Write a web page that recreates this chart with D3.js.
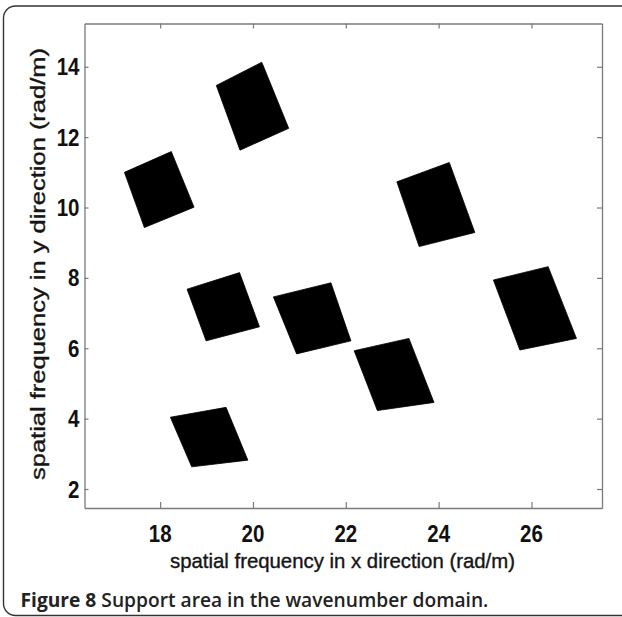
<!DOCTYPE html>
<html>
<head>
<meta charset="utf-8">
<script src="https://cdn.jsdelivr.net/npm/d3@7"></script>
<style>
  html, body { margin: 0; padding: 0; background: #fff; }
  svg { display: block; }
</style>
</head>
<body>
<svg id="fig" width="622" height="617"></svg>
<script>
// Support regions in the wavenumber domain: each patch is a quadrilateral
// given by its four corners (kx, ky) in rad/m, listed clockwise from top-left.
const patchNames = ["A", "B", "C", "D", "E", "F", "G", "H"];
const cornersKx = [
  [19.21, 20.19, 20.77, 19.72],
  [17.23, 18.24, 18.73, 17.66],
  [23.10, 24.23, 24.78, 23.58],
  [25.18, 26.36, 26.97, 25.75],
  [18.58, 19.71, 20.14, 18.99],
  [20.44, 21.68, 22.11, 20.94],
  [18.22, 19.42, 19.89, 18.68],
  [22.18, 23.36, 23.90, 22.68]
];
const cornersKy = [
  [13.47, 14.13, 12.25, 11.63],
  [11.00, 11.59, 10.01, 9.43],
  [10.73, 11.28, 9.29, 8.89],
  [7.94, 8.32, 6.28, 5.95],
  [7.68, 8.15, 6.61, 6.21],
  [7.46, 7.86, 6.21, 5.84],
  [4.04, 4.32, 2.82, 2.63],
  [5.93, 6.28, 4.46, 4.23]
];
const xTicks = [18, 20, 22, 24, 26];
const yTicks = [2, 4, 6, 8, 10, 12, 14];
const xDomain = [16.37, 27.52];
const yDomain = [1.46, 15.23];
const xLabel = "spatial frequency in x direction (rad/m)";
const yLabel = "spatial frequency in y direction (rad/m)";
const captionBold = "Figure 8";
const captionText = " Support area in the wavenumber domain.";

const svg = d3.select("#fig");

// outer rounded frame of the figure panel (its right side runs off the page)
svg.append("rect")
  .attr("x", 3.5).attr("y", 6)
  .attr("width", 640).attr("height", 609.5)
  .attr("rx", 12).attr("ry", 12)
  .attr("fill", "none")
  .attr("stroke", "#333")
  .attr("stroke-width", 1.4);

const plot = { left: 84.5, right: 602, top: 23.5, bottom: 508 };

const x = d3.scaleLinear().domain(xDomain).range([plot.left, plot.right]);
const y = d3.scaleLinear().domain(yDomain).range([plot.bottom, plot.top]);

// patches
const line = d3.line()
  .x(d => x(d[0]))
  .y(d => y(d[1]))
  .curve(d3.curveLinearClosed);

svg.append("g")
  .selectAll("path")
  .data(patchNames.map((n, i) => cornersKx[i].map((kx, j) => [kx, cornersKy[i][j]])))
  .join("path")
  .attr("d", line)
  .attr("fill", "#000")
  .attr("stroke", "#000")
  .attr("stroke-width", 0.8)
  .attr("stroke-linejoin", "round");

// axes box with inward ticks on all four sides
const axisColor = "#7a7a7a";
const tickFont = "'Liberation Sans', Arial, sans-serif";

function styleAxis(g) {
  g.select(".domain").attr("stroke", axisColor).attr("stroke-width", 1.3);
  g.selectAll(".tick line").attr("stroke", axisColor).attr("stroke-width", 1.2);
}

const xBottom = svg.append("g")
  .attr("transform", `translate(0,${plot.bottom})`)
  .call(d3.axisBottom(x).tickValues(xTicks).tickSizeInner(-6).tickSizeOuter(0).tickFormat(""));
styleAxis(xBottom);

const xTop = svg.append("g")
  .attr("transform", `translate(0,${plot.top})`)
  .call(d3.axisTop(x).tickValues(xTicks).tickSizeInner(-5).tickSizeOuter(0).tickFormat(""));
styleAxis(xTop);

const yLeft = svg.append("g")
  .attr("transform", `translate(${plot.left},0)`)
  .call(d3.axisLeft(y).tickValues(yTicks).tickSizeInner(-4).tickSizeOuter(0).tickFormat(""));
styleAxis(yLeft);

const yRight = svg.append("g")
  .attr("transform", `translate(${plot.right},0)`)
  .call(d3.axisRight(y).tickValues(yTicks).tickSizeInner(-5).tickSizeOuter(0).tickFormat(""));
styleAxis(yRight);

// tick labels (tall, narrow digits)
svg.append("g")
  .selectAll("text")
  .data(xTicks)
  .join("text")
  .attr("transform", d => `translate(${x(d)},541.5) scale(1,1.15)`)
  .attr("text-anchor", "middle")
  .attr("font-family", tickFont)
  .attr("font-weight", "bold")
  .attr("font-size", 20.5)
  .attr("fill", "#111")
  .text(d => d);

svg.append("g")
  .selectAll("text")
  .data(yTicks)
  .join("text")
  .attr("transform", d => `translate(79.5,${y(d) + 8.5}) scale(1,1.15)`)
  .attr("text-anchor", "end")
  .attr("font-family", tickFont)
  .attr("font-weight", "bold")
  .attr("font-size", 20.5)
  .attr("fill", "#111")
  .text(d => d);

// axis titles
svg.append("text")
  .attr("transform", "translate(342.5,568) scale(1,1.08)")
  .attr("text-anchor", "middle")
  .attr("font-family", tickFont)
  .attr("font-size", 19.5)
  .attr("textLength", 345)
  .attr("lengthAdjust", "spacingAndGlyphs")
  .attr("fill", "#151515")
  .attr("stroke", "#151515")
  .attr("stroke-width", 0.35)
  .text(xLabel);

svg.append("text")
  .attr("transform", "translate(45,264) rotate(-90)")
  .attr("text-anchor", "middle")
  .attr("font-family", tickFont)
  .attr("font-size", 19.5)
  .attr("textLength", 432)
  .attr("lengthAdjust", "spacingAndGlyphs")
  .attr("fill", "#151515")
  .attr("stroke", "#151515")
  .attr("stroke-width", 0.35)
  .text(yLabel);

// figure caption
const cap = svg.append("text")
  .attr("x", 20.5).attr("y", 607)
  .attr("font-family", "'Open Sans', 'Noto Sans', sans-serif")
  .attr("font-size", 19.2)
  .attr("fill", "#222");
cap.append("tspan").attr("font-weight", "bold").text(captionBold);
cap.append("tspan").attr("font-weight", "600").text(captionText);
</script>
</body>
</html>
